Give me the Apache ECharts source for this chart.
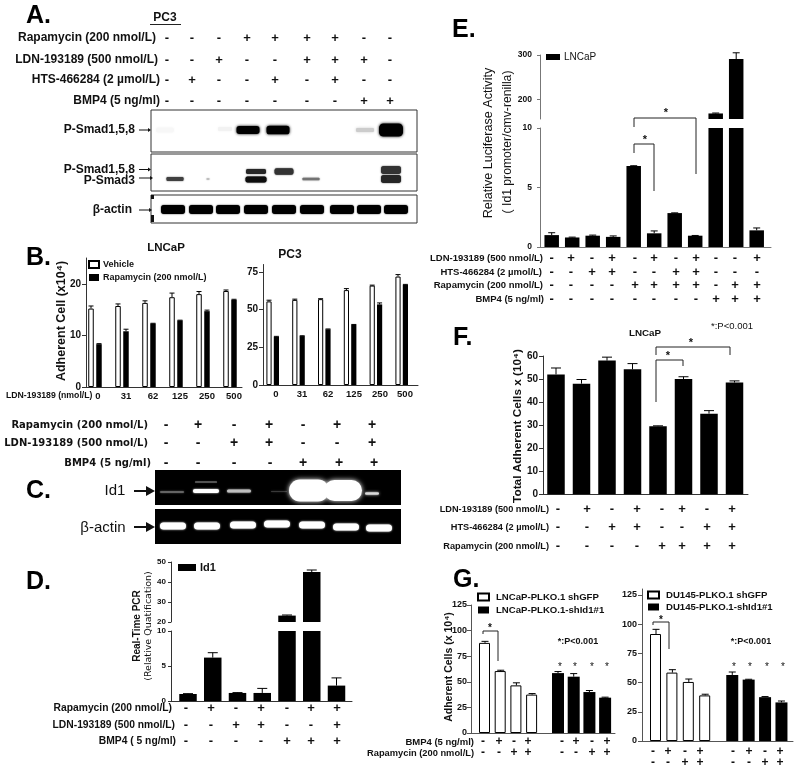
<!DOCTYPE html>
<html><head><meta charset="utf-8">
<style>html,body{margin:0;padding:0;background:#fff}#c{width:800px;height:771px}</style>
<script src="https://cdn.jsdelivr.net/npm/echarts@6/dist/echarts.min.js"></script>
</head><body><div id="c"></div>
<script>
// ---------- data ----------
const rapaLabel='Rapamycin (200 nmol/L)', ldnLabel='LDN-193189 (500 nmol/L)', bmpLabel='BMP4 (5 ng/ml)', htsLabel='HTS-466284 (2 µmol/L)';
const doseLabels=['0','31','62','125','250','500'];
const bLNVehicle=[15.2,15.7,16.3,17.4,18,18.6], bLNVehicleErr=[0.5,0.4,0.4,0.8,0.5,0.2];
const bLNRapa=[8.3,10.8,12.3,12.9,14.7,16.9], bLNRapaErr=[0.1,0.4,0.05,0.05,0.2,0.1];
const bPCVehicle=[55.5,56.5,57,63,66,72], bPCVehicleErr=[0.8,0.5,0.3,1,0.3,1.3];
const bPCRapa=[32,32.5,37,40,53.5,66.5], bPCRapaErr=[0.3,0.2,0.2,0.2,1,0.3];
const dValues=[1,6.2,1.15,1.15,23.2,45,2.2], dErr=[0.05,0.7,0.05,0.65,0.3,1,1.1];
const eValues=[1,0.8,0.95,0.85,6.8,1.15,2.85,0.95,168,291,1.4], eErr=[0.2,0.03,0.05,0.08,0.03,0.2,0.02,0.02,1,14,0.2];
const fValues=[52,48,58,54.2,29.5,50,35,48.5], fErr=[2.8,1.8,1.5,2.5,0.2,1,1.3,0.7];
const gLNGfp=[88,60.5,46.5,37.5], gLNGfpErr=[1.5,0.8,2.5,1];
const gLNId1=[58.5,55,40,34.5], gLNId1Err=[1.5,3,1.5,0.5];
const gDUGfp=[91.5,58.5,50.5,39], gDUGfpErr=[4,2.5,2.5,1];
const gDUId1=[56.5,52.5,37.5,33], gDUId1Err=[2.5,0.3,0.5,1.2];
const ticksBLN=[0,10,20], ticksBPC=[0,25,50,75], ticksDLow=[0,5,10], ticksDUp=[20,30,40,50];
const ticksELow=[0,5,10], ticksEUp=[200,300], ticksF=[0,10,20,30,40,50,60], ticksG=[0,25,50,75,100,125];
// sign rows
const aRapa='---++++--', aLdn='--+--+++-', aHts='-+--+-+--', aBmp='-------++';
const cRapa='-+-+-++', cLdn='--++--+', cBmp='----+++';
const dRapa='-+-+-++', dLdn='--++--+', dBmp='----+++';
const eLdn='-+-+-+-+--+', eHts='--++--++---', eRapa='----++++-++', eBmp='--------+++';
const fLdn='-+-+-+-+', fHts='--++--++', fRapa='----++++';
const gBmp='-+-+-+-+', gRapa='--++--++';
// blot band intensities (0..1)
const a1Strength=[0.03,0.05,1,1,0.2,1];
const a2Upper=[0.85,0.8,0.8], a2Lower=[0.75,0.25,0.95,0.55,0.85];
const aActin=[1,1,1,1,1,1,1,1,1];
const cId1=[0.45,1,0.75,0.22,1,1,0.85];
const cActin=[1,1,1,1,1,1,1];

// ---------- helpers ----------
const F='"Liberation Sans",Arial,sans-serif';
const G=[];
function T(text,x,y,o={}){
  G.push({type:'text',x,y,rotation:o.rot?Math.PI/2:0,z:20,silent:true,style:{text,
    font:`${o.weight||'bold'} ${o.size||11}px ${o.font||F}`,fill:o.fill||'#111',
    align:o.align||'center',verticalAlign:'middle'}});
}
function R(x,y,w,h,fill,o={}){
  G.push({type:'rect',z:o.z||5,silent:true,shape:{x,y,width:w,height:h,r:o.r||0},
    style:{fill,stroke:o.stroke||null,lineWidth:o.lw||1,shadowBlur:o.blur||0,shadowColor:o.blur?(o.sc||fill):'transparent'}});
}
function L(pts,o={}){
  G.push({type:'polyline',z:15,silent:true,shape:{points:pts},style:{stroke:o.stroke||'#222',lineWidth:o.lw||1,fill:null}});
}
function arrow(x0,x1,y,hl,hw,lw){
  L([[x0,y],[x1-hl,y]],{lw,stroke:'#111'});
  G.push({type:'polygon',z:15,silent:true,shape:{points:[[x1,y],[x1-hl,y-hw],[x1-hl,y+hw]]},style:{fill:'#111'}});
}
function row(label,right,y,signs,xs,o={}){
  T(label,right,y,{align:'right',size:o.size||10,font:o.font,weight:o.weight});
  [...signs].forEach((s,i)=>T(s,xs[i],y,{size:o.sign||13,font:'"Liberation Sans"'}));
}
function panelLetter(s,x,y){T(s,x,y,{size:25,align:'left',fill:'#000'});}
function bracket(x0,y0,yTop,x1,y1,o={}){L([[x0,y0],[x0,yTop],[x1,yTop],[x1,y1]],{lw:o.lw||1});}

const grids=[],xAxes=[],yAxes=[],series=[];
function addGrid(p){
  const g=grids.length;
  grids.push({left:p.left,top:p.top,width:p.right-p.left,height:p.height,containLabel:false});
  xAxes.push({gridIndex:g,type:'value',min:-(p.c0-p.left)/p.step,max:(p.right-p.c0)/p.step,
    axisLine:{show:p.xLine!==false,onZero:false,lineStyle:{color:p.color||'#333',width:1}},
    axisTick:{show:false},axisLabel:{show:false},splitLine:{show:false}});
  yAxes.push({gridIndex:g,type:'value',min:p.yMin,max:p.yMax,
    axisLine:{show:true,onZero:false,lineStyle:{color:p.color||'#333',width:1}},
    axisTick:{show:true,length:p.tick||4,customValues:p.ticks,lineStyle:{color:p.color||'#333'}},
    axisLabel:{customValues:p.ticks,fontFamily:F,fontWeight:'bold',fontSize:p.fs||10,color:'#111',margin:p.margin||5},
    splitLine:{show:false}});
  return g;
}
function bars(g,name,xs,vals,o={}){
  series.push({type:'bar',name,xAxisIndex:g,yAxisIndex:g,barWidth:o.w,barGap:o.gap||'-100%',
    data:xs.map((x,i)=>[x,vals[i]]),silent:true,
    itemStyle:{color:o.color||'#000',borderColor:'#000',borderWidth:o.border||0}});
}
function errs(g,xs,vals,er,o={}){
  const off=o.off||0,cap=o.cap||3;
  const data=xs.map((x,i)=>[x,vals[i],vals[i]+er[i]]).filter(d=>d[1]>=(o.lo??-1e9)&&d[1]<=(o.hi??1e9));
  series.push({type:'custom',xAxisIndex:g,yAxisIndex:g,silent:true,z:3,data,encode:{x:0,y:1},
    renderItem(params,api){
      const a=api.coord([api.value(0),api.value(1)]),b=api.coord([api.value(0),api.value(2)]);
      const x=a[0]+off,st={stroke:'#000',lineWidth:1};
      return {type:'group',children:[
        {type:'line',shape:{x1:x,y1:a[1],x2:x,y2:b[1]},style:st},
        {type:'line',shape:{x1:x-cap,y1:b[1],x2:x+cap,y2:b[1]},style:st}]};
    }});
}
const idx=n=>Array.from({length:n},(_,i)=>i);

// ---------- Panel A ----------
panelLetter('A.',26,16);
T('PC3',165,18,{size:12});L([[150,24.5],[181,24.5]],{lw:1});
const aX=[167,192,219,247,275,307,335,364,390];
row(rapaLabel,156,38,aRapa,aX,{size:12});
row(ldnLabel,158,60,aLdn,aX,{size:12});
row(htsLabel,160,80,aHts,aX,{size:12});
row(bmpLabel,160,101,aBmp,aX,{size:12});
[[151,110,266,42],[151,154,266,37],[151,195,266,28]].forEach(b=>R(b[0],b[1],b[2],b[3],'#fff',{stroke:'#333',z:4}));
function band(cx,cy,w,h,s,blur){
  const v=Math.round(255*(1-s));R(cx-w/2,cy-h/2,w,h,`rgb(${v},${v},${v})`,{blur:blur??2,r:h/3});
}
[[165,130,18,5],[225,129,14,4],[248,130,23,8],[278,130,23,8.5],[365,130,18,4],[391,130,24,13]]
  .forEach((b,i)=>band(b[0],b[1],b[2],b[3],a1Strength[i],3));
[[256,171.5,20,5],[284,171.5,19,6.5],[391,170,20,8]].forEach((b,i)=>band(b[0],b[1],b[2],b[3],a2Upper[i],1.5));
[[175,179,17,4],[208,179,3,2],[256,179.5,21,6],[311,179,17,2.5],[391,179,20,8]].forEach((b,i)=>band(b[0],b[1],b[2],b[3],a2Lower[i],1.5));
[173,201,228,256,284,312,342,369,396].forEach((x,i)=>band(x,209.5,24,9,aActin[i],1.5));
T('P-Smad1,5,8',135,130,{align:'right',size:12});arrow(139,151,130,3,2,1);
T('P-Smad1,5,8',135,170,{align:'right',size:12});arrow(139,151,169.5,3,2,1);
T('P-Smad3',135,181,{align:'right',size:12});arrow(139,153,178,3,2,1);
T('β-actin',132,210,{align:'right',size:12});arrow(139,152,210,3,2,1);
R(151,195,3,4,'#111',{z:8});R(151,215,3,7,'#111',{z:8});

// ---------- Panel B ----------
panelLetter('B.',26,258);
T('LNCaP',166,248,{size:11.5});T('PC3',290,255,{size:12});
T('Adherent Cell (x10⁴)',62,321,{rot:1,size:12.5});
let g=addGrid({left:86,right:242,top:258,height:129,c0:95,step:27,yMin:0,yMax:25,ticks:ticksBLN,fs:10,margin:5});
const bX=idx(6);
bars(g,'Vehicle',bX,bLNVehicle,{w:5.5,gap:'45%',color:'#fff',border:1});
bars(g,rapaLabel,bX,bLNRapa,{w:5.5,gap:'45%'});
errs(g,bX,bLNVehicle,bLNVehicleErr,{off:-4,cap:2.5});errs(g,bX,bLNRapa,bLNRapaErr,{off:4,cap:2.5});
g=addGrid({left:263,right:418,top:264.5,height:120.5,c0:272.7,step:25.8,yMin:0,yMax:80,ticks:ticksBPC,fs:10,margin:5});
bars(g,'Vehicle PC3',bX,bPCVehicle,{w:5.2,gap:'42%',color:'#fff',border:1});
bars(g,'Rapamycin PC3',bX,bPCRapa,{w:5.2,gap:'42%'});
errs(g,bX,bPCVehicle,bPCVehicleErr,{off:-3.7,cap:2.5});errs(g,bX,bPCRapa,bPCRapaErr,{off:3.7,cap:2.5});
T('LDN-193189 (nmol/L)',6,396,{align:'left',size:8.7});
[98,126,153,180,207,234].forEach((x,i)=>T(doseLabels[i],x,396,{size:9.5}));
[276,302,328,354,380,405].forEach((x,i)=>T(doseLabels[i],x,394,{size:9.5}));

// ---------- Panel C ----------
const cF='"DejaVu Sans"';
const cX=[166,198,234,269,303,337,372];
row(rapaLabel,148,425,cRapa,cX,{size:10,font:cF,sign:14});
row(ldnLabel,148,443,cLdn,cX,{size:10,font:cF,sign:14});
row(bmpLabel,151,463,cBmp,[166,198,234,270,303,339,374],{size:10,font:cF,sign:14});
panelLetter('C.',26,491);
R(155,470,246,35,'#000',{z:4});R(155,509,246,35,'#000',{z:4});
function gel(cx,cy,w,h,s,blur){const v=Math.round(255*s);R(cx-w/2,cy-h/2,w,h,`rgb(${v},${v},${v})`,{blur:blur||2,r:h/2,z:6});}
gel(172,492,24,1.5,cId1[0]);gel(206,491,26,4,cId1[1]);gel(206,482,22,1,0.45,1);gel(239,491,24,3,cId1[2]);
gel(279,491.5,16,1,cId1[3]);gel(309,490.5,40,22,cId1[4],5);gel(343,490.5,38,21,cId1[5],5);gel(372,493.5,14,2.5,cId1[6],3);
[[173,526],[207,526],[243,525],[277,524],[312,525],[346,527],[379,528]].forEach((p,i)=>gel(p[0],p[1],26,7,cActin[i],2));
T('Id1',115,491,{size:15,weight:'normal'});arrow(134,155,491,9,5,2);
T('β-actin',103,528,{size:15,weight:'normal'});arrow(134,155,527,9,5,2);

// ---------- Panel D ----------
panelLetter('D.',26,582);
const dX=idx(7);
g=addGrid({left:171,right:352,top:562,height:60,c0:188,step:24.75,yMin:20,yMax:50,ticks:ticksDUp,fs:8,xLine:false,tick:3,margin:5});
bars(g,'Id1',dX,dValues.map(v=>v>20?v:null),{w:17.5});errs(g,dX,dValues,dErr,{lo:20,cap:5});
g=addGrid({left:171,right:352,top:631,height:70,c0:188,step:24.75,yMin:0,yMax:10,ticks:ticksDLow,fs:8,tick:3,margin:5});
bars(g,'Id1',dX,dValues,{w:17.5});errs(g,dX,dValues,dErr,{hi:10,cap:5});
T('Real-Time PCR',137,626,{rot:1,size:10});T('(Relative Quatification)',149,626,{rot:1,size:9.5,font:cF,weight:'normal'});
const dS=[186,211,236,261,287,311,337];
row(rapaLabel,172,708,dRapa,dS,{size:10.3});row(ldnLabel,175,725,dLdn,dS,{size:10.3});row('BMP4 ( 5 ng/ml)',176,741,dBmp,dS,{size:10.3});

// ---------- Panel E ----------
panelLetter('E.',452,30);
const eX=idx(11);
g=addGrid({left:540,right:771,top:55,height:64,c0:551.7,step:20.5,yMin:155.5,yMax:300,ticks:ticksEUp,fs:8.5,xLine:false,color:'#777',tick:3,margin:8});
bars(g,'LNCaP',eX,eValues.map(v=>v>20?v:null),{w:14.5});errs(g,eX,eValues,eErr,{lo:20,cap:3.5});
g=addGrid({left:540,right:771,top:128,height:119,c0:551.7,step:20.5,yMin:0,yMax:10,ticks:ticksELow,fs:8.5,color:'#777',tick:3,margin:8});
bars(g,'LNCaP',eX,eValues,{w:14.5});errs(g,eX,eValues,eErr,{hi:10,cap:3.5});
T('Relative Luciferase Activity',489,143,{rot:1,size:12.6,weight:'normal'});
T('( Id1 promoter/cmv-renilla)',508,142,{rot:1,size:12.2,weight:'normal'});
bracket(634,127,118,696,174);T('*',666,113,{size:11});
bracket(634,153,144,654,191);T('*',645,140,{size:11});
const eS=[551.7,571,592,612,635,654,676,696,716,735,757];
row(ldnLabel,543,258,eLdn,eS,{size:9.5});row(htsLabel,542,272,eHts,eS,{size:9.5});
row(rapaLabel,543,285,eRapa,eS,{size:9.5});row(bmpLabel,544,299,eBmp,eS,{size:9.5});

// ---------- Panel F ----------
panelLetter('F.',453,338);
const fX=idx(8);
g=addGrid({left:543,right:748,top:356,height:138.3,c0:556,step:25.5,yMin:0,yMax:60,ticks:ticksF,fs:10,margin:5});
bars(g,'Total Adherent Cells',fX,fValues,{w:17.5});errs(g,fX,fValues,fErr,{cap:5});
T('Total Adherent Cells x (10⁴)',518,426,{rot:1,size:11.8});
T('LNCaP',645,333,{size:9.8});T('*:P<0.001',732,326,{size:9.5,weight:'normal'});
bracket(656,402,360,683,366);T('*',668,356,{size:11});
bracket(656,355,347,730,355);T('*',691,343,{size:11});
const fS=[558,587,612,637,662,682,707,732];
row(ldnLabel,549,509,fLdn,fS,{size:9.2});row(htsLabel,549,527,fHts,fS,{size:9.2});row(rapaLabel,549,546,fRapa,fS,{size:9.2});

// ---------- Panel G ----------
panelLetter('G.',453,580);
const gW=[0,1,2,3],gB=[4.65,5.65,6.65,7.65];
g=addGrid({left:471,right:615,top:605,height:128,c0:485,step:15.7,yMin:0,yMax:125,ticks:ticksG,fs:9,color:'#555',margin:4});
bars(g,'LNCaP-PLKO.1 shGFP',gW,gLNGfp,{w:11,color:'#fff',border:1});
bars(g,'LNCaP-PLKO.1-shId1#1',gB,gLNId1,{w:12});
errs(g,gW,gLNGfp,gLNGfpErr,{cap:3.5});errs(g,gB,gLNId1,gLNId1Err,{cap:3.5});
g=addGrid({left:642,right:793,top:589,height:152,c0:656,step:16.4,yMin:0,yMax:130,ticks:ticksG,fs:9,color:'#555',margin:5});
bars(g,'DU145-PLKO.1 shGFP',gW,gDUGfp,{w:11,color:'#fff',border:1});
bars(g,'DU145-PLKO.1-shId1#1',gB,gDUId1,{w:12});
errs(g,gW,gDUGfp,gDUGfpErr,{cap:3.5});errs(g,gB,gDUId1,gDUId1Err,{cap:3.5});
T('Adherent Cells (x 10⁴)',449,667,{rot:1,size:10.5});
[560,575,592,607,734,750,767,783].forEach(x=>T('*',x,667,{size:10,weight:'normal'}));
T('*:P<0.001',578,642,{size:9});T('*:P<0.001',751,642,{size:9});
bracket(483,634,631,498,661);T('*',490,628,{size:10});
bracket(653,625,622,669,649);T('*',661,620,{size:10});
const gS1=[483,499,514,528,562,576,592,607],gS2=[653,668,685,700,733,749,765,780];
row(bmpLabel,474,742,gBmp,gS1,{size:9.5,sign:12});row(rapaLabel,474,753,gRapa,gS1,{size:9.3,sign:12});
[...gBmp].forEach((s,i)=>T(s,gS2[i],752,{size:12}));[...gRapa].forEach((s,i)=>T(s,gS2[i],763,{size:12}));

// ---------- legends ----------
function legend(names,left,top,o){
  return {data:names,left,top,orient:'vertical',padding:0,itemGap:o.gap,itemWidth:o.w,itemHeight:o.h,icon:'rect',selectedMode:false,
    textStyle:{fontFamily:F,fontWeight:o.weight||'bold',fontSize:o.size,color:'#111',padding:[0,0,0,o.tp||-1]}};
}
const chart=echarts.init(document.getElementById('c'),null,{renderer:'canvas'});
chart.setOption({animation:false,backgroundColor:'#fff',
  grid:grids,xAxis:xAxes,yAxis:yAxes,series,
  legend:[
    legend(['Vehicle',rapaLabel],88,260,{gap:4,w:10,h:7,size:9}),
    legend(['Id1'],178,562,{gap:0,w:18,h:7,size:11}),
    legend(['LNCaP'],546,52,{gap:0,w:14,h:6,size:10,weight:'normal'}),
    legend(['LNCaP-PLKO.1 shGFP','LNCaP-PLKO.1-shId1#1'],477,592,{gap:3,w:11,h:7,size:9.6,tp:2}),
    legend(['DU145-PLKO.1 shGFP','DU145-PLKO.1-shId1#1'],647,590,{gap:2,w:11,h:7,size:9.6,tp:2})
  ],
  graphic:{elements:G}
});
</script></body></html>
